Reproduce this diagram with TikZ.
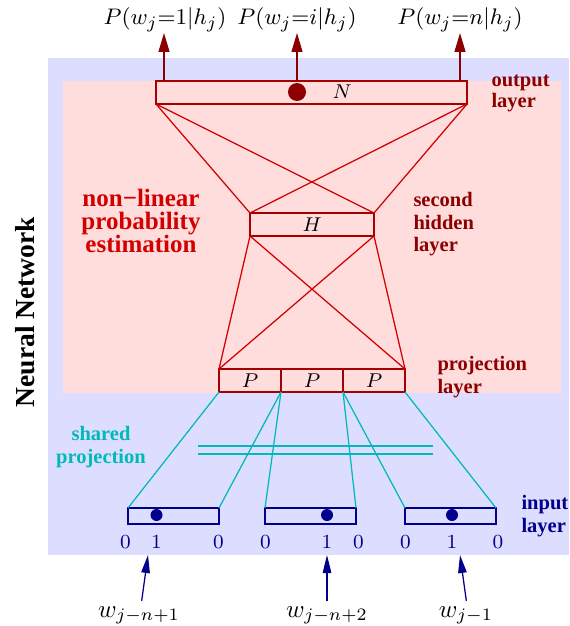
\documentclass[tikz,border=0pt]{standalone}
\usepackage{amsmath,amssymb}
\usepackage{fontspec}
\newfontfamily\lblfont{Liberation Serif}
\usepackage{tikz}
\usetikzlibrary{positioning}
\usetikzlibrary{arrows.meta}
\definecolor{bgblue}{RGB}{221,221,255}
\definecolor{bgpink}{RGB}{255,221,221}
\definecolor{netred}{RGB}{210,0,0}
\definecolor{boxred}{RGB}{165,0,0}
\definecolor{darkred}{RGB}{140,0,0}
\definecolor{projcyan}{RGB}{0,185,185}
\definecolor{navyblue}{RGB}{0,0,140}
\tikzset{
    layerbox/.style={
        draw=boxred,
        line width=0.6pt,
        inner sep=0pt,
        outer sep=0pt,
        minimum height=9.2pt,
        font=\fontsize{8}{9}\selectfont
    },
    inbox/.style={
        draw=navyblue,
        line width=0.6pt,
        inner sep=0pt,
        outer sep=0pt,
        minimum width=36.4pt,
        minimum height=6.4pt
    },
    netedge/.style={netred, line width=0.5pt},
    projedge/.style={projcyan, line width=0.5pt},
    outarrow/.style={darkred, line width=0.5pt, -{Triangle[length=7.6pt,width=4.4pt]}},
    inarrow/.style={navyblue, line width=0.5pt, -{Triangle[length=7.2pt,width=3.4pt]}},
    problabel/.style={
        font=\fontsize{9.3}{11}\selectfont,
        inner sep=0pt,
        anchor=base
    },
    tag/.style={
        font=\lblfont\bfseries\fontsize{8.2}{9}\selectfont,
        align=left,
        inner sep=0pt
    },
    digit/.style={
        navyblue,
        font=\fontsize{8.5}{10}\selectfont,
        inner sep=0pt,
        anchor=base
    }
}

\begin{document}
\begin{tikzpicture}[x=0.4pt,y=-0.4pt]
\useasboundingbox (0,0) rectangle (569,626);
% 背景
\fill[bgblue] (48,58) rectangle (569,555);
\fill[bgpink] (63,81) rectangle (561,393);

% 节点
\node[layerbox, minimum width=124.4pt] (N) at (311.5,92.5) {};
\node[font=\fontsize{8}{9}\selectfont] at (342,92) {$N$};
\node[circle, fill=darkred, inner sep=0pt, minimum size=7.2pt] (dN) at (297,92) {};
\node[layerbox, minimum width=49.6pt] (H) at (312,224.5) {$H$};
\node[layerbox, minimum width=24.8pt] (P1) at (250,380.5) {$P$};
\node[layerbox, minimum width=24.8pt] (P2) [right=0pt of P1] {$P$};
\node[layerbox, minimum width=24.8pt] (P3) [right=0pt of P2] {$P$};
\node[inbox] (I1) at (173.5,516) {};
\node[inbox] (I2) at (310.5,516) {};
\node[inbox] (I3) at (450.5,516) {};
\node[circle, fill=navyblue, inner sep=0pt, minimum size=4.8pt] (d1) at (156.5,515) {};
\node[circle, fill=navyblue, inner sep=0pt, minimum size=4.8pt] (d2) at (327,515) {};
\node[circle, fill=navyblue, inner sep=0pt, minimum size=4.8pt] (d3) at (452,515) {};

% 输出概率
\node[problabel] (L1) at (165,25) {$P(w_j{=}1|h_j)$};
\node[problabel] (L2) at (297,25) {$P(w_j{=}i|h_j)$};
\node[problabel] (L3) at (460,25) {$P(w_j{=}n|h_j)$};
\coordinate (t1) at (164,33);
\coordinate (t2) at (297,33);
\coordinate (t3) at (460,33);
\draw[outarrow] (N.north -| t1) -- (t1);
\draw[outarrow] (dN.center |- N.north) -- (t2);
\draw[outarrow] (N.north -| t3) -- (t3);

% 输入
\node[digit] (z1) at (125.5,548) {$0$};
\node[digit] (o1) at (156.5,548) {$1$};
\node[digit] (e1) at (218.5,548) {$0$};
\node[digit] (z2) at (265.5,548) {$0$};
\node[digit] (o2) at (327,548) {$1$};
\node[digit] (e2) at (358.5,548) {$0$};
\node[digit] (z3) at (405.5,548) {$0$};
\node[digit] (o3) at (452,548) {$1$};
\node[digit] (e3) at (498,548) {$0$};
\node[inner sep=0pt, anchor=base] (W1) at (139,617) {$w_{j-n+1}$};
\node[inner sep=0pt, anchor=base] (W2) at (327,617) {$w_{j-n+2}$};
\node[inner sep=0pt, anchor=base] (W3) at (466,617) {$w_{j-1}$};
\coordinate (h1) at (148,555);
\coordinate (h2) at (327,555);
\coordinate (h3) at (460,555);
\draw[inarrow, shorten <=2pt] (W1.north -| 141,0) -- (h1);
\draw[inarrow, shorten <=2pt] (W2.north) -- (h2);
\draw[inarrow, shorten <=2pt] (W3.north -| 467,0) -- (h3);

% 边
\draw[netedge] (N.south west) -- (H.north west);
\draw[netedge] (N.south west) -- (H.north east);
\draw[netedge] (N.south east) -- (H.north west);
\draw[netedge] (N.south east) -- (H.north east);
\draw[netedge] (H.south west) -- (P1.north west);
\draw[netedge] (H.south west) -- (P3.north east);
\draw[netedge] (H.south east) -- (P1.north west);
\draw[netedge] (H.south east) -- (P3.north east);

\draw[projedge] (P1.south west) -- (I1.north west);
\draw[projedge] (P1.south east) -- (I1.north east);
\draw[projedge] (P2.south west) -- (I2.north west);
\draw[projedge] (P2.south east) -- (I2.north east);
\draw[projedge] (P3.south west) -- (I3.north west);
\draw[projedge] (P3.south east) -- (I3.north east);
\draw[projedge] (198,446) -- (433,446);
\draw[projedge] (198,454) -- (433,454);

% 标签
\node[tag, darkred, font=\lblfont\bfseries\fontsize{8.2}{6}\selectfont, anchor=north west] (ol) at (491,74) {output\\layer};
\node[tag, darkred, anchor=north west] (hl) at (413,192) {second\\hidden\\layer};
\node[tag, darkred, anchor=north west] (pl) at (437,356) {projection\\layer};
\node[tag, navyblue, anchor=north west] (il) at (521,495) {input\\layer};
\node[tag, projcyan, align=center, anchor=north] (sp) at (101,426) {shared\\projection};
\node[tag, netred, align=center, anchor=north, font=\lblfont\bfseries\fontsize{10}{9.2}\selectfont] (nl) at (141,189) {non−linear\\probability\\estimation};
\node[tag, black, rotate=90, font=\lblfont\bfseries\fontsize{11}{13}\selectfont] (nn) at (25,312) {Neural Network};
\end{tikzpicture}
\end{document}
